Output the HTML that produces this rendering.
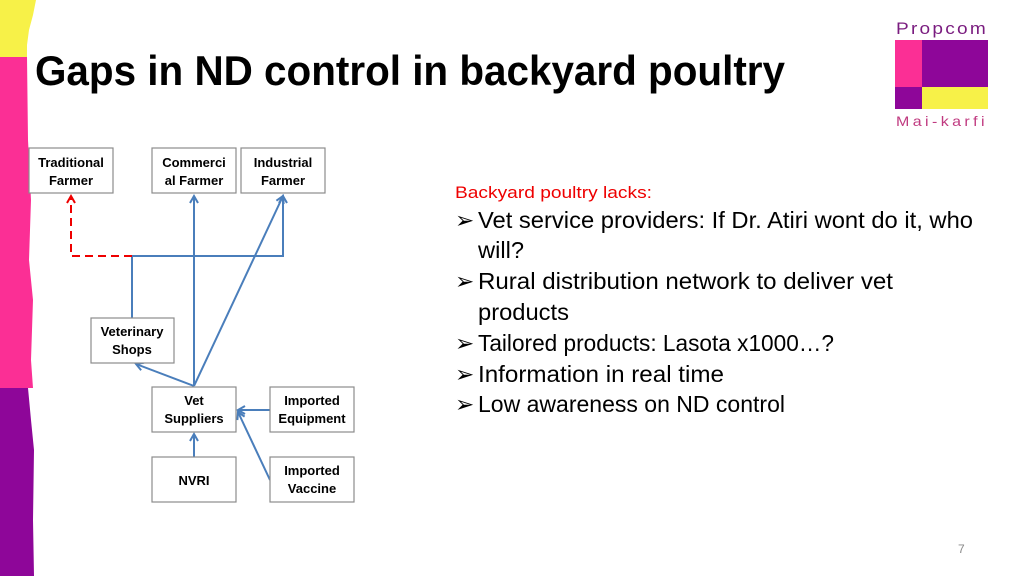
<!DOCTYPE html>
<html><head><meta charset="utf-8"><style>
html,body{margin:0;padding:0;background:#fff;}
svg{display:block;font-family:"Liberation Sans",sans-serif;}
</style></head><body>
<svg width="1024" height="576" viewBox="0 0 1024 576" xmlns="http://www.w3.org/2000/svg">
<defs>
<marker id="a" markerWidth="10" markerHeight="10" refX="8" refY="5" orient="auto" markerUnits="userSpaceOnUse"><path d="M1,1 L8,5 L1,9" fill="none" stroke="#4a7ebb" stroke-width="2"/></marker>
<marker id="r" markerWidth="10" markerHeight="10" refX="8" refY="5" orient="auto" markerUnits="userSpaceOnUse"><path d="M1,1 L8,5 L1,9" fill="none" stroke="#e00" stroke-width="2"/></marker>
</defs>
<rect width="1024" height="576" fill="#fff"/>
<path d="M0,0 H36 L33,15 L29,30 L27,45 L27,57 H0Z" fill="#f7f148"/>
<path d="M0,57 H27 L28,140 L31,200 L29,260 L33,300 L31,360 L33,388 H0Z" fill="#fb2f95"/>
<path d="M0,388 H28 L31,420 L34,450 L33,520 L34,576 H0Z" fill="#8e0699"/>
<text x="35" y="85" font-size="42" font-weight="bold" textLength="750" lengthAdjust="spacingAndGlyphs">Gaps in ND control in backyard poultry</text>
<text x="896" y="34" font-size="17" fill="#7a1c7f" letter-spacing="2" textLength="92" lengthAdjust="spacingAndGlyphs">Propcom</text>
<rect x="895" y="40" width="28" height="47" fill="#fb2f95"/>
<rect x="922" y="40" width="66" height="47" fill="#8e0699"/>
<rect x="895" y="87" width="28" height="22" fill="#8e0699"/>
<rect x="922" y="87" width="66" height="22" fill="#f7f148"/>
<text x="896" y="126" font-size="14" fill="#c03a80" letter-spacing="3" textLength="92" lengthAdjust="spacingAndGlyphs">Mai-karfi</text>
<g stroke="#4a7ebb" stroke-width="2" fill="none">
<polyline points="132,318 132,256 283,256 283,196" marker-end="url(#a)"/>
<line x1="194" y1="386" x2="194" y2="196" marker-end="url(#a)"/>
<line x1="194" y1="386" x2="283" y2="196" marker-end="url(#a)"/>
<line x1="194" y1="386" x2="136" y2="364" marker-end="url(#a)"/>
<line x1="270" y1="410" x2="238" y2="410" marker-end="url(#a)"/>
<line x1="270" y1="480" x2="238" y2="412" marker-end="url(#a)"/>
<line x1="194" y1="457" x2="194" y2="434" marker-end="url(#a)"/>
</g>
<polyline points="132,256 71,256 71,196" stroke="#e00" stroke-width="2" fill="none" stroke-dasharray="8,5" marker-end="url(#r)"/>
<g fill="#fff" stroke="#8c8c8c" stroke-width="1.2">
<rect x="29" y="148" width="84" height="45"/>
<rect x="152" y="148" width="84" height="45"/>
<rect x="241" y="148" width="84" height="45"/>
<rect x="91" y="318" width="83" height="45"/>
<rect x="152" y="387" width="84" height="45"/>
<rect x="270" y="387" width="84" height="45"/>
<rect x="152" y="457" width="84" height="45"/>
<rect x="270" y="457" width="84" height="45"/>
</g>
<g font-size="13" font-weight="bold" text-anchor="middle" fill="#000">
<text x="71" y="167">Traditional</text><text x="71" y="185">Farmer</text>
<text x="194" y="167">Commerci</text><text x="194" y="185">al Farmer</text>
<text x="283" y="167">Industrial</text><text x="283" y="185">Farmer</text>
<text x="132" y="336">Veterinary</text><text x="132" y="354">Shops</text>
<text x="194" y="405">Vet</text><text x="194" y="423">Suppliers</text>
<text x="312" y="405">Imported</text><text x="312" y="423">Equipment</text>
<text x="194" y="485">NVRI</text>
<text x="312" y="475">Imported</text><text x="312" y="493">Vaccine</text>
</g>
<text x="455" y="198" font-size="17" fill="#e00" textLength="197" lengthAdjust="spacingAndGlyphs">Backyard poultry lacks:</text>
<g font-size="23" fill="#000">
<text x="455" y="228">➢</text><text x="478" y="228" textLength="495" lengthAdjust="spacingAndGlyphs">Vet service providers: If Dr. Atiri wont do it, who</text>
<text x="478" y="258" textLength="46" lengthAdjust="spacingAndGlyphs">will?</text>
<text x="455" y="289">➢</text><text x="478" y="289" textLength="415" lengthAdjust="spacingAndGlyphs">Rural distribution network to deliver vet</text>
<text x="478" y="320" textLength="91" lengthAdjust="spacingAndGlyphs">products</text>
<text x="455" y="351">➢</text><text x="478" y="351" textLength="356" lengthAdjust="spacingAndGlyphs">Tailored products: Lasota x1000…?</text>
<text x="455" y="382">➢</text><text x="478" y="382" textLength="246" lengthAdjust="spacingAndGlyphs">Information in real time</text>
<text x="455" y="412">➢</text><text x="478" y="412" textLength="307" lengthAdjust="spacingAndGlyphs">Low awareness on ND control</text>
</g>
<text x="958" y="553" font-size="12" fill="#888">7</text>
</svg>
</body></html>
